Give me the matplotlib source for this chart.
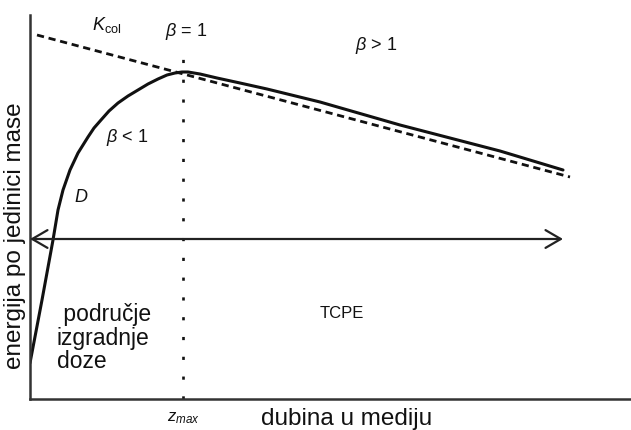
import matplotlib
matplotlib.use("Agg")
import matplotlib.pyplot as plt

plt.rcParams['font.family'] = ['Liberation Sans', 'DejaVu Sans']
plt.rcParams['mathtext.fontset'] = 'custom'
plt.rcParams['mathtext.rm'] = 'Liberation Sans'
plt.rcParams['mathtext.it'] = 'Liberation Sans:italic'

# Dose curve D (depth, dose) in arbitrary schematic units
depth_D = [0, 12, 23, 28, 33, 40, 48, 53, 58, 64, 71, 79, 88, 98, 108, 118, 128, 137, 145, 152, 158,
           170, 187, 210, 237, 290, 370, 470, 533]
dose_D = [36, 99, 159, 189, 209, 229, 246, 254, 262, 271, 279, 288, 296, 303, 309, 315, 320, 324, 326, 327, 327,
          325, 321, 316, 310, 297, 274, 248, 229]

# Collision kerma line K_col
depth_K = [7, 540]
kerma_K = [364, 222]

# Depth of maximum dose and the region-arrow height
z_max = 153
arrow_level = 160
arrow_end = 533
dotted_top = 354

TXT = '#111111'
LINE = '#111111'

fig = plt.figure(figsize=(6.31, 4.30), dpi=100)
ax = fig.add_axes([30/631, 31/430, 601/631, 384/430])
ax.set_xlim(0, 601)
ax.set_ylim(0, 384)
for s in ['top', 'right']:
    ax.spines[s].set_visible(False)
for s in ['left', 'bottom']:
    ax.spines[s].set_linewidth(1.8)
    ax.spines[s].set_color('#333333')
ax.set_xticks([])
ax.set_yticks([])

ax.plot(depth_K, kerma_K, color=LINE, lw=2.0, dashes=(2.6, 1.7), solid_capstyle='butt')
ax.plot(depth_D, dose_D, color=LINE, lw=2.2, solid_joinstyle='round', solid_capstyle='round')
ax.plot([z_max, z_max], [0, dotted_top], color=LINE, lw=1.9, dashes=(1.2, 6.3))

arrow_style = dict(arrowstyle='->,head_length=0.55,head_width=0.32', lw=1.6, color='#222222',
                   shrinkA=0, shrinkB=0, mutation_scale=20)
ax.annotate('', xy=(0, arrow_level), xytext=(z_max, arrow_level), arrowprops=arrow_style, annotation_clip=False)
ax.annotate('', xy=(arrow_end, arrow_level), xytext=(z_max, arrow_level), arrowprops=arrow_style, annotation_clip=False)

ax.text(62, 374, r'$K_{\rm col}$', fontsize=13, color=TXT, ha='left', va='center', clip_on=False)
ax.text(156, 367, r'$\beta$ = 1', fontsize=13, color=TXT, ha='center', va='center')
ax.text(346, 354, r'$\beta$ > 1', fontsize=13, color=TXT, ha='center', va='center')
ax.text(97, 262, r'$\beta$ < 1', fontsize=13, color=TXT, ha='center', va='center')
ax.text(51, 202, r'$D$', fontsize=13, color=TXT, ha='center', va='center')
ax.text(312, 86, 'TCPE', fontsize=12, color=TXT, ha='center', va='center')
ax.text(27, 61, ' područje\nizgradnje\ndoze', fontsize=16.5, color=TXT, ha='left', va='center',
        linespacing=1.03)
ax.text(z_max, -19, r'$z_{max}$', fontsize=12, color=TXT, ha='center', va='center', clip_on=False)
ax.text(317, -20, 'dubina u mediju', fontsize=17.5, color=TXT, ha='center', va='center', clip_on=False)
ax.text(-15, 163, 'energija po jedinici mase', fontsize=17.5, color=TXT, ha='center', va='center',
        rotation=90, clip_on=False)

fig.savefig('out.png', dpi=100)
